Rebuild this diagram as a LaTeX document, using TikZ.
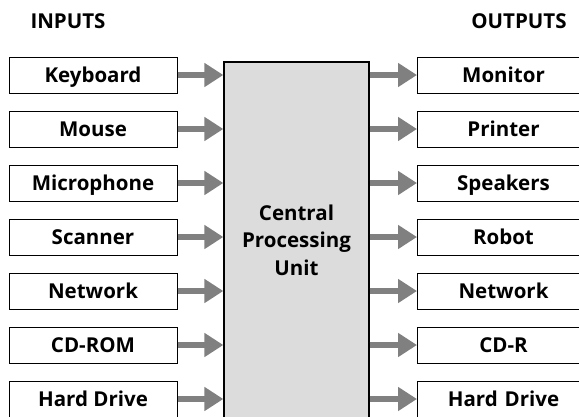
\documentclass[tikz,border=0pt]{standalone}
\usepackage{fontspec}
\setmainfont{Open Sans}
\usetikzlibrary{arrows.meta}
\definecolor{arrowgray}{HTML}{808080}
\definecolor{cpugray}{HTML}{DCDCDC}
\tikzset{
  boxfont/.style={font=\fontsize{20.5}{27.5}\selectfont\bfseries},
  iobox/.style={draw=black, line width=1pt, fill=white, minimum width=168pt, minimum height=36pt, inner sep=0pt, text height=14.6pt, text depth=0pt, boxfont},
  heading/.style={boxfont},
  flow/.style={draw=arrowgray, line width=6pt, -{Triangle[length=19pt,width=23pt]}},
}
\begin{document}
\begin{tikzpicture}[x=1pt,y=-1pt]
\useasboundingbox (0,0) rectangle (579,416);
\clip (0,0) rectangle (579,416);
\node[heading] (hin) at (68,21) {INPUTS};
\node[heading] (hout) at (519,21) {OUTPUTS};
\node[draw=black, line width=1.3pt, fill=cpugray, minimum width=145pt, minimum height=356pt, inner sep=0pt, align=center, boxfont] (cpu) at (296.5,240) {Central\\Processing\\Unit};
\foreach \n/\t [count=\i] in {i1/Keyboard,i2/Mouse,i3/Microphone,i4/Scanner,i5/Network,i6/CD-ROM,i7/Hard Drive}{
  \node[iobox] (\n) at (93,{75+54*(\i-1)}) {\t};
  \draw[flow] (\n.east) -- (cpu.west |- \n.east);
}
\foreach \n/\t [count=\i] in {o1/Monitor,o2/Printer,o3/Speakers,o4/Robot,o5/Network,o6/CD-R,o7/Hard Drive}{
  \node[iobox, minimum width=172pt, text width=152pt, align=center, anchor=west] (\n) at (417,{75+54*(\i-1)}) {\t};
  \draw[flow] (cpu.east |- \n.west) -- (\n.west);
}
\end{tikzpicture}
\end{document}
